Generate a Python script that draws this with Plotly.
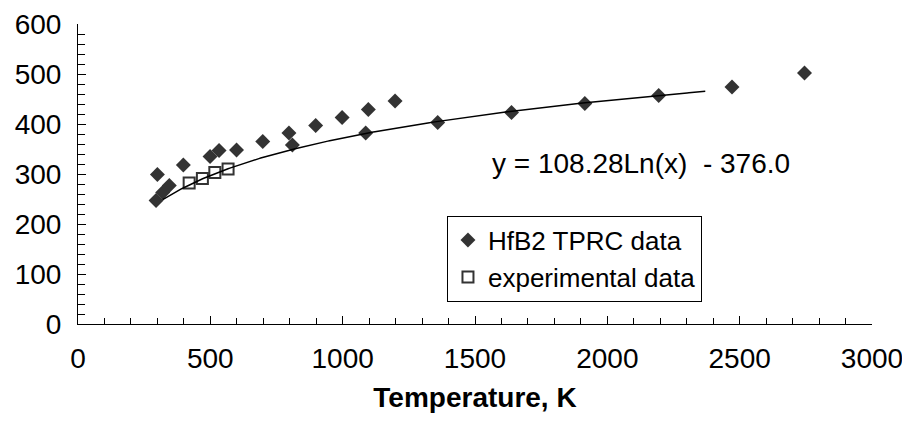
import numpy as np
import plotly.graph_objects as go

# HfB2 TPRC data (filled diamonds)
tprc_T = [295, 320, 345, 300, 398, 499, 533, 599, 698, 797, 810, 898, 998, 1097, 1087, 1198,
          1359, 1638, 1915, 2194, 2471, 2745]
tprc_v = [247, 263, 277, 299, 318, 335, 347, 348, 365, 382, 358, 397, 413, 429, 382, 446,
          403, 423, 441, 457, 474, 502]

# experimental data (open squares)
exp_T = [420, 470, 517, 567]
exp_v = [282, 291, 303, 310]

# logarithmic trend line y = a*ln(x) + b
trend_a = 108.28
trend_b = -376.0
trend_range = [320, 2370]

x_ticks = [0, 500, 1000, 1500, 2000, 2500, 3000]
y_ticks = [0, 100, 200, 300, 400, 500, 600]

FONT = "Liberation Sans, Arial, sans-serif"
FS = 28
MARK = "#333333"

tx = np.linspace(trend_range[0], trend_range[1], 300)
ty = trend_a * np.log(tx) + trend_b

fig = go.Figure()
fig.add_trace(go.Scatter(
    x=tprc_T, y=tprc_v, mode="markers", name="HfB2 TPRC data",
    marker=dict(symbol="diamond", size=11.5, color=MARK, line=dict(width=0)),
))
fig.add_trace(go.Scatter(
    x=exp_T, y=exp_v, mode="markers", name="experimental data",
    marker=dict(symbol="square-open", size=11, color=MARK, line=dict(width=2, color=MARK)),
))
fig.add_trace(go.Scatter(
    x=tx, y=ty, mode="lines", showlegend=False,
    line=dict(color="black", width=1.5), hoverinfo="skip",
))

fig.add_annotation(
    x=1557, y=322, xref="x", yref="y", xanchor="left", yanchor="middle",
    text="y = 108.28Ln(x)\u00a0\u00a0- 376.0", showarrow=False,
    font=dict(family=FONT, size=FS, color="black"),
)

fig.update_layout(
    width=902, height=417,
    margin=dict(l=70, r=38, t=16, b=101, autoexpand=False),
    paper_bgcolor="white", plot_bgcolor="white",
    font=dict(family=FONT, size=FS, color="black"),
    showlegend=True,
    legend=dict(
        x=0.4647, y=0.361, xanchor="left", yanchor="top",
        bgcolor="white", bordercolor="black", borderwidth=1,
        font=dict(family=FONT, size=26, color="black"),
        itemsizing="trace", tracegroupgap=0,
    ),
)
fig.update_xaxes(
    range=[0, 3000], tickvals=x_ticks, ticktext=[str(v) for v in x_ticks],
    showgrid=False, zeroline=False, showline=True, linecolor="black", linewidth=1,
    ticks="inside", ticklen=8, tickcolor="black", tickwidth=1,
    minor=dict(dtick=100, ticks="inside", ticklen=6, tickcolor="black", showgrid=False),
    ticklabelstandoff=9, automargin=False, ticklabeloverflow="allow",
    title=dict(text="<b>Temperature, K</b>", font=dict(family=FONT, size=FS), standoff=14),
)
fig.update_yaxes(
    range=[0, 600], tickvals=y_ticks, ticktext=[str(v) for v in y_ticks],
    showgrid=False, zeroline=False, showline=True, linecolor="black", linewidth=1,
    ticks="inside", ticklen=8, tickcolor="black", tickwidth=1,
    minor=dict(dtick=20, ticks="inside", ticklen=7, tickcolor="black", showgrid=False),
    ticklabelstandoff=10, automargin=False, ticklabeloverflow="allow",
)

fig.write_html("out.html")
